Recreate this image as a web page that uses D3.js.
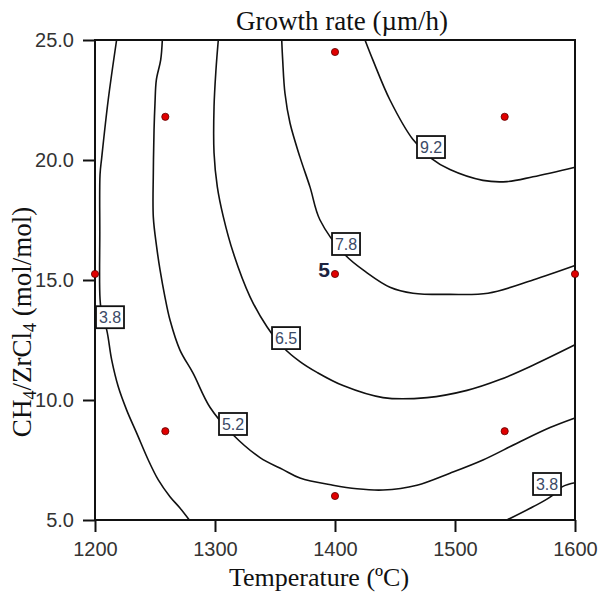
<!DOCTYPE html>
<html>
<head>
<meta charset="utf-8">
<script src="https://cdn.jsdelivr.net/npm/d3@7"></script>
<style>
  html, body { margin: 0; padding: 0; background: #fff; }
  svg { display: block; }
</style>
</head>
<body>
<svg id="chart" width="601" height="592"></svg>
<script>
// ticks
const xTicks = [1200, 1300, 1400, 1500, 1600];
const yTicks = [5, 10, 15, 20, 25];

// contour lines, [temperature, CH4/ZrCl4]
const contour38Left = [[1218, 25], [1211, 22.5], [1205.6, 20.1], [1204.2, 19.4], [1204, 17], [1204.2, 14.2],
  [1206, 13.5], [1209.75, 12.92], [1213.9, 11.67], [1219.4, 10.55], [1226.4, 9.58], [1234.75, 8.62],
  [1244.4, 7.5], [1252.75, 6.67], [1262.5, 5.97], [1270.8, 5.5], [1278.6, 5]];
const contour52 = [[1256.1, 25], [1254.75, 24.17], [1251.1, 23.33], [1250, 22.37], [1249.2, 21.25],
  [1248.6, 19.46], [1248.6, 17.62], [1251.4, 16.37], [1254.2, 15.42], [1258.3, 14.29], [1262.5, 13.33],
  [1270.8, 12.08], [1281.7, 11.12], [1295.8, 9.7], [1315, 8.55], [1337.5, 7.6], [1356.7, 7.1],
  [1370.8, 6.75], [1398.3, 6.45], [1418.3, 6.3], [1440, 6.25], [1468.3, 6.45], [1495.8, 6.95], [1523.3, 7.5],
  [1551.7, 8.2], [1579.2, 8.85], [1600, 9.25]];
const contour65 = [[1302.75, 25], [1300.8, 23.75], [1299.2, 22.22], [1299.2, 20.29], [1301.9, 18.89],
  [1306.9, 17.64], [1315.3, 16.12], [1329.2, 14.3], [1343.3, 13.05], [1356.7, 12.2], [1370.8, 11.6],
  [1385, 11.15], [1406.7, 10.6], [1440, 10.1], [1476.7, 10.1], [1510, 10.4], [1537.5, 10.85], [1565, 11.45], [1600, 12.3]];
const contour78 = [[1355.6, 25], [1356.4, 24.17], [1358.3, 22.78], [1362.5, 21.54], [1370.8, 20.12],
  [1379.2, 18.87], [1387.5, 17.5], [1408.3, 16.05], [1426.7, 15.3], [1445.8, 14.7], [1465, 14.45],
  [1495.8, 14.4], [1527.5, 14.45], [1565, 15], [1600, 15.6]];
const contour92 = [[1425, 25], [1431.7, 24.15], [1445.8, 22.5], [1465, 20.85], [1480.8, 20.05], [1495.8, 19.6],
  [1523.3, 19.15], [1543.3, 19.1], [1565, 19.3], [1600, 19.7]];
const contour38Right = [[1543.3, 5], [1565, 5.55], [1579.2, 5.95], [1590, 6.4], [1600, 6.55]];

// contour labels: text and where the box sits
const labelText = ['3.8', '5.2', '6.5', '7.8', '9.2', '3.8'];
const labelX = [1212.5, 1315, 1359.2, 1409.2, 1480, 1576.7];
const labelY = [13.45, 9.0, 12.58, 16.5, 20.54, 6.5];

// design points
const designX = [1258.6, 1541.4, 1258.6, 1541.4, 1200, 1600, 1400, 1400, 1400];
const designY = [8.7, 8.7, 21.8, 21.8, 15.25, 15.25, 6.0, 24.5, 15.25];
const centerRuns = '5';

const svg = d3.select('#chart');
const x = d3.scaleLinear().domain([1200, 1600]).range([95, 575]);
const y = d3.scaleLinear().domain([5, 25]).range([520, 40]);

const SANS = '"Liberation Sans", Arial, sans-serif';
const SERIF = '"Liberation Serif", "Times New Roman", serif';

// contour lines
const line = d3.line()
  .x(d => x(d[0]))
  .y(d => y(d[1]))
  .curve(d3.curveCatmullRom.alpha(0.5));

const contours = [contour38Left, contour52, contour65, contour78, contour92, contour38Right];
svg.append('g')
  .selectAll('path')
  .data(contours)
  .join('path')
  .attr('d', line)
  .attr('fill', 'none')
  .attr('stroke', '#111')
  .attr('stroke-width', 1.6);

// axes
const yAxis = svg.append('g')
  .attr('transform', `translate(${x(1200)},0)`)
  .call(d3.axisLeft(y).tickValues(yTicks).tickFormat(d3.format('.1f')).tickSize(12).tickPadding(9));
const xAxis = svg.append('g')
  .attr('transform', `translate(0,${y(5)})`)
  .call(d3.axisBottom(x).tickValues(xTicks).tickFormat(d3.format('d')).tickSize(12).tickPadding(10));

[xAxis, yAxis].forEach(a => {
  a.select('.domain').remove();
  a.selectAll('line').attr('stroke', '#111').attr('stroke-width', 2);
  a.selectAll('text')
    .attr('fill', '#333')
    .style('font-family', SANS)
    .style('font-size', '20px');
});

// frame
svg.append('rect')
  .attr('x', x(1200))
  .attr('y', y(25))
  .attr('width', x(1600) - x(1200))
  .attr('height', y(5) - y(25))
  .attr('fill', 'none')
  .attr('stroke', '#111')
  .attr('stroke-width', 2);

// contour labels
const labels = svg.append('g')
  .selectAll('g')
  .data(labelText.map((t, i) => ({ t, xv: labelX[i], yv: labelY[i] })))
  .join('g')
  .attr('transform', d => `translate(${x(d.xv)},${y(d.yv)})`);

labels.append('rect')
  .attr('x', -14).attr('y', -11)
  .attr('width', 28).attr('height', 22)
  .attr('fill', '#fff')
  .attr('stroke', '#111')
  .attr('stroke-width', 1.8);

labels.append('text')
  .attr('text-anchor', 'middle')
  .attr('dy', '0.36em')
  .attr('fill', '#3b4a66')
  .style('font-family', SANS)
  .style('font-size', '16px')
  .text(d => d.t);

// design points
svg.append('g')
  .selectAll('circle')
  .data(designX.map((v, i) => [v, designY[i]]))
  .join('circle')
  .attr('cx', d => x(d[0]))
  .attr('cy', d => y(d[1]))
  .attr('r', 3.6)
  .attr('fill', '#e00000')
  .attr('stroke', '#5a0000')
  .attr('stroke-width', 0.8);

// number of centre runs
svg.append('text')
  .attr('x', x(1400) - 5)
  .attr('y', y(15.25) + 3)
  .attr('text-anchor', 'end')
  .attr('fill', '#1c2340')
  .style('font-family', SANS)
  .style('font-size', '21px')
  .style('font-weight', 'bold')
  .text(centerRuns);

// titles
svg.append('text')
  .attr('x', 342)
  .attr('y', 30)
  .attr('text-anchor', 'middle')
  .attr('fill', '#111')
  .style('font-family', SERIF)
  .style('font-size', '27px')
  .text('Growth rate (\u00b5m/h)');

svg.append('text')
  .attr('x', 319)
  .attr('y', 586)
  .attr('text-anchor', 'middle')
  .attr('fill', '#111')
  .style('font-family', SERIF)
  .style('font-size', '26px')
  .text('Temperature (\u00baC)');

const yTitle = svg.append('text')
  .attr('transform', 'translate(31,322) rotate(-90)')
  .attr('text-anchor', 'middle')
  .attr('fill', '#111')
  .style('font-family', SERIF)
  .style('font-size', '27px');
yTitle.append('tspan').text('CH');
yTitle.append('tspan').attr('dy', 5).style('font-size', '18px').text('4');
yTitle.append('tspan').attr('dy', -5).text('/ZrCl');
yTitle.append('tspan').attr('dy', 5).style('font-size', '18px').text('4');
yTitle.append('tspan').attr('dy', -5).text(' (mol/mol)');
</script>
</body>
</html>
